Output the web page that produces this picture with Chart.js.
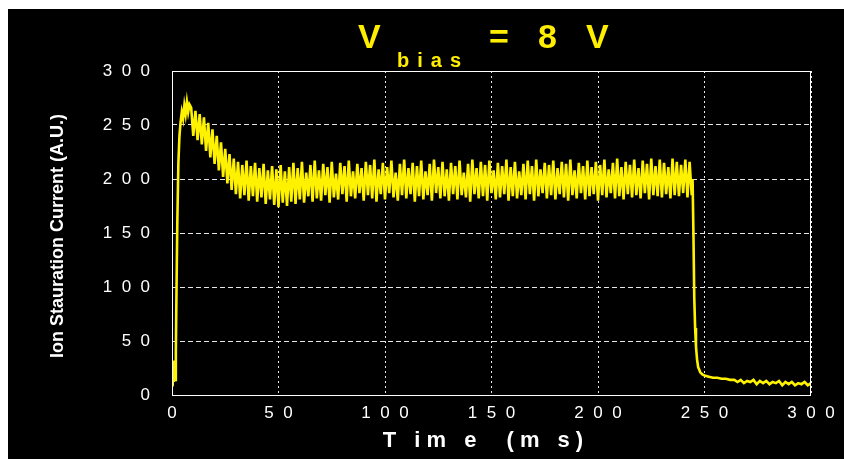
<!DOCTYPE html>
<html>
<head>
<meta charset="utf-8">
<script src="https://cdn.jsdelivr.net/npm/chart.js@4/dist/chart.umd.min.js"></script>
<style>
  html, body { margin: 0; padding: 0; background: #fff; }
  canvas { display: block; }
</style>
</head>
<body>
<canvas id="chart" width="844" height="459"></canvas>
<script>
// start of the pulse, before the ripple sets in (ms, A.U.)
const riseTime = [0.3, 0.6, 0.9, 1.2, 1.5, 1.8, 2.1, 2.5, 3.0, 3.5, 4.0, 4.6, 5.2, 5.8, 6.4, 7.0, 7.6, 8.2];
const riseCurrent = [8, 32, 12, 22, 14, 40, 95, 160, 215, 240, 252, 262, 256, 268, 260, 271, 262, 269];

// ripple part, read every 1 ms starting at 9 ms
const rippleStart = 9;
const rippleStep = 1;
const rippleCurrent = [
  266, 240, 263, 236, 260, 232, 257, 226, 252, 220,
  246, 214, 240, 208, 234, 202, 228, 196, 223, 190,
  219, 186, 216, 182, 213, 185, 217, 180, 212, 184,
  215, 179, 210, 183, 214, 177, 208, 181, 212, 176,
  209, 174, 213, 178, 207, 175, 211, 179, 215, 177,
  210, 181, 216, 178, 206, 184, 213, 179, 217, 182,
  208, 180, 214, 185, 211, 178, 216, 183, 205, 181,
  215, 186, 212, 179, 217, 184, 207, 182, 214, 187,
  210, 180, 216, 185, 213, 182, 218, 179, 209, 186,
  215, 181, 211, 187, 217, 183, 206, 180, 214, 185,
  218, 182, 210, 186, 215, 179, 212, 184, 217, 181,
  207, 185, 214, 180, 218, 187, 211, 182, 216, 184,
  209, 180, 215, 186, 212, 181, 217, 185, 206, 183,
  214, 179, 218, 186, 210, 182, 216, 184, 213, 180,
  217, 187, 208, 181, 215, 183, 212, 186, 218, 180,
  211, 184, 216, 182, 207, 185, 214, 181, 217, 186,
  212, 180, 218, 184, 209, 187, 215, 182, 213, 185,
  217, 181, 210, 186, 216, 183, 214, 180, 218, 185,
  208, 182, 215, 187, 212, 181, 217, 184, 211, 186,
  216, 180, 213, 185, 218, 183, 209, 187, 215, 182,
  219, 184, 211, 181, 216, 186, 213, 183, 218, 185,
  210, 182, 217, 187, 214, 181, 219, 185, 212, 184,
  218, 183, 215, 186, 211, 182, 219, 185, 216, 184,
  213, 187, 218, 183, 216, 185
];

// switch-off and decay
const tailTime = [244.4, 244.8, 245.2, 245.6, 246, 246.5, 247, 248, 249, 250, 252, 254, 256, 258, 260, 262,
  264, 265.5, 267, 268.5, 270, 271.5, 273, 274.5, 276, 277.5, 279, 280.5, 282, 283.5, 285, 286.5,
  288, 289.5, 291, 292.5, 294, 295.5, 297, 298.5, 300];
const tailCurrent = [200, 150, 90, 62, 45, 33, 26, 21, 19, 18, 17, 16, 16, 15, 15, 14,
  14, 12, 14, 11, 13, 12, 14, 10, 13, 11, 13, 10, 12, 11, 13, 9,
  12, 10, 12, 9, 11, 10, 12, 9, 11];

const yTicks = [0, 50, 100, 150, 200, 250, 300];

const points = [];
riseTime.forEach((t, i) => points.push({ x: t, y: riseCurrent[i] }));
rippleCurrent.forEach((v, i) => points.push({ x: rippleStart + i * rippleStep, y: v }));
tailTime.forEach((t, i) => points.push({ x: t, y: tailCurrent[i] }));

const spaced = (v) => String(v).split('').join('  ');
const tickFont = { family: '"Liberation Sans", Arial, sans-serif', size: 17 };

const frame = {
  id: 'frame',
  beforeDraw(chart) {
    const c = chart.ctx;
    c.save();
    c.fillStyle = '#fff';
    c.fillRect(0, 0, chart.width, chart.height);
    c.fillStyle = '#000';
    c.fillRect(8, 9, chart.width - 8, chart.height - 9);
    c.restore();
  },
  afterDraw(chart) {
    const c = chart.ctx;
    const a = chart.chartArea;
    c.save();
    c.strokeStyle = '#fff';
    c.lineWidth = 1;
    c.setLineDash([]);
    c.strokeRect(a.left + 0.5, a.top + 0.5, a.right - a.left - 1, a.bottom - a.top);

    // title  V_bias = 8 V
    c.fillStyle = '#ffee00';
    c.textBaseline = 'alphabetic';
    c.textAlign = 'left';
    c.font = 'bold 34px "Liberation Sans", Arial, sans-serif';
    c.fillText('V', 358, 48);
    c.fillText('=', 489, 48);
    c.fillText('8', 538, 48);
    c.fillText('V', 586, 48);
    c.font = 'bold 20px "Liberation Sans", Arial, sans-serif';
    if ('letterSpacing' in c) c.letterSpacing = '8px';
    c.fillText('bias', 397, 67);

    // axis titles
    c.fillStyle = '#fff';
    c.textAlign = 'center';
    c.textBaseline = 'middle';
    if ('letterSpacing' in c) c.letterSpacing = '6px';
    c.font = 'bold 22px "Liberation Sans", Arial, sans-serif';
    c.fillText('T im e  (m s)', 486, 441);
    if ('letterSpacing' in c) c.letterSpacing = '0px';
    c.translate(58, 236);
    c.rotate(-Math.PI / 2);
    c.font = 'bold 18px "Liberation Sans", Arial, sans-serif';
    c.fillText('Ion Stauration Current (A.U.)', 0, 0);
    c.restore();
  }
};

new Chart(document.getElementById('chart'), {
  type: 'line',
  data: {
    datasets: [{
      data: points,
      borderColor: '#fff200',
      borderWidth: 2.6,
      pointRadius: 0,
      tension: 0
    }]
  },
  options: {
    responsive: false,
    animation: false,
    layout: { padding: { top: 71, right: 33, left: 0, bottom: 0 } },
    plugins: { legend: { display: false }, tooltip: { enabled: false } },
    scales: {
      x: {
        type: 'linear',
        min: 0,
        max: 300,
        afterFit: (s) => { s.height = 64; },
        grid: { color: '#e8e8e8', lineWidth: 1, drawTicks: false },
        border: { display: false, dash: [2, 3] },
        ticks: { stepSize: 50, color: '#fff', font: tickFont, padding: 8, maxRotation: 0, callback: spaced }
      },
      y: {
        min: 0,
        max: 300,
        afterFit: (s) => { s.width = 172; },
        afterBuildTicks: (s) => { s.ticks = yTicks.map(v => ({ value: v })); },
        grid: { color: '#e8e8e8', lineWidth: 1, drawTicks: false },
        border: { display: false, dash: [5, 3] },
        ticks: { color: '#fff', font: tickFont, padding: 22, callback: spaced }
      }
    }
  },
  plugins: [frame]
});
</script>
</body>
</html>
